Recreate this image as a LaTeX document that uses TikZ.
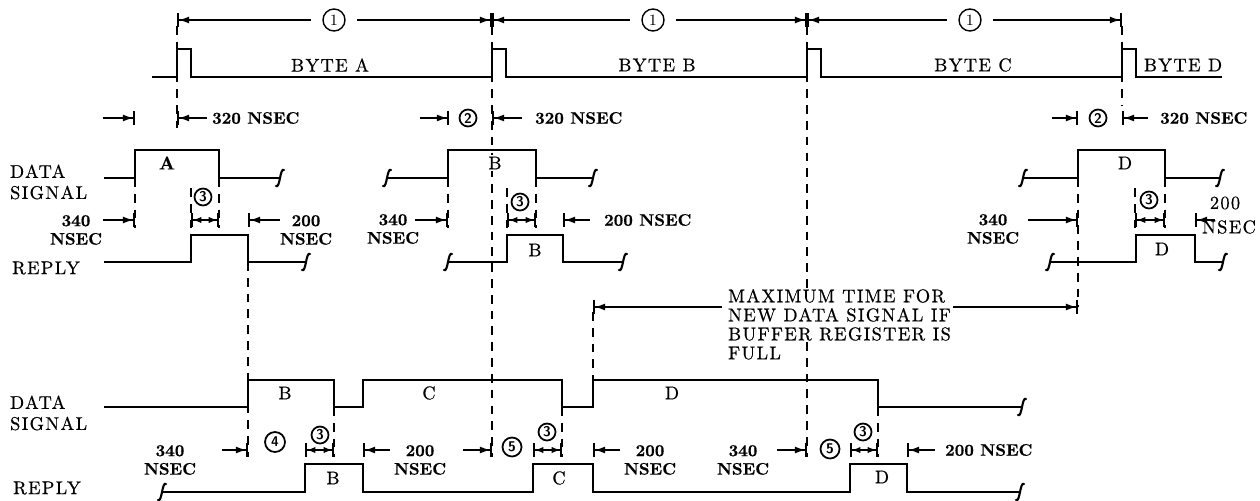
\documentclass[tikz,border=0pt]{standalone}
\usepackage{fontspec}
\newfontfamily\lblfont{Latin Modern Roman}[LetterSpace=7, FakeBold=0.5]
\newfontfamily\dimfont{lmroman10-bold.otf}[FakeBold=0.6]
\usetikzlibrary{arrows.meta}

\tikzset{
  sig/.style={line width=1.2pt, line join=miter},
  guide/.style={line width=1pt, dash pattern=on 5pt off 4pt},
  dim/.style={line width=0.9pt},
  tobar/.style={dim, -{Latex[length=6pt,width=4pt]Bar[width=8pt]}},
  frombar/.style={dim, {Bar[width=8pt]Latex[length=6pt,width=4pt]}-},
  bothbar/.style={dim, {Bar[width=8pt]Latex[length=5pt,width=3.6pt]}-{Latex[length=5pt,width=3.6pt]Bar[width=8pt]}},
  lbl/.style={font=\lblfont\fontsize{10.5}{12}\selectfont, inner sep=1pt},
  dimtxt/.style={font=\dimfont\fontsize{9.5}{10.5}\selectfont, inner sep=1pt},
  circ/.style={draw, circle, line width=1pt, inner sep=0pt, minimum size=0.34cm, font=\fontsize{8}{8}\selectfont\bfseries\sffamily},
  one/.style={draw, circle, line width=0.8pt, inner sep=0pt, minimum size=0.44cm, outer sep=7pt, font=\fontsize{9}{9}\selectfont},
  squig/.pic={\draw[sig, line cap=round] (-4,8) .. controls (0,11) and (0,-11) .. (4,-8);}
}

\begin{document}
\begin{tikzpicture}[x=0.02cm, y=-0.02cm]
\useasboundingbox (0,0) rectangle (1260,500);

% byte strobe line
\draw[sig] (152,77) foreach \x in {177,492,807,1122} { -- (\x,77) -- (\x,49) -- (\x+14,49) -- (\x+14,77) } -- (1222,77);
\foreach \x/\b in {330/A,657/B,973/C,1183/D}
  \node[lbl] (byte\b) at (\x,65) {BYTE \b};

% byte period
\foreach \a/\b/\m in {177/492/334, 492/807/653, 807/1122/970} {
  \node[one] (per\m) at (\m,20) {1};
  \draw[frombar] (\a,20) -- (per\m);
  \draw[tobar] (per\m) -- (\b,20);
}

% guide lines
\draw[guide] (177,26) -- (177,128);
\draw[guide] (492,26) -- (492,457);
\draw[guide] (807,26) -- (807,290) (807,342) -- (807,457);
\draw[guide] (1122,26) -- (1122,106);
\foreach \x in {135,448,219,536,1165} \draw[guide] (\x,178) -- (\x,228);
\foreach \x in {191,507,1135} \draw[guide] (\x,188) -- (\x,228);
\draw[guide] (1078,178) -- (1078,307);
\draw[guide] (248,262) -- (248,457);
\foreach \x in {334,562,878} \draw[guide] (\x,407) -- (\x,457);
\draw[guide] (593,312) -- (593,380);

% signal names
\node[lbl, align=left, anchor=west] (dsigup) at (8,182) {DATA\\[0pt]SIGNAL};
\node[lbl] (replyup) at (46,268) {REPLY};
\node[lbl, align=left, anchor=west] (dsiglow) at (8,413) {DATA\\[0pt]SIGNAL};
\node[lbl] (replylow) at (47,488) {REPLY};

% upper data signal
\draw[sig] (104,178) -- (135,178) -- (135,150) -- (219,150) -- (219,178) -- (280,178) pic {squig};
\draw[sig] (387,178) pic {squig} -- (448,178) -- (448,150) -- (536,150) -- (536,178) -- (593,178) pic {squig};
\draw[sig] (1023,178) pic {squig} -- (1078,178) -- (1078,150) -- (1165,150) -- (1165,178) -- (1220,178) pic {squig};
\node[dimtxt, font=\dimfont\fontsize{10.5}{12}\selectfont] (dA) at (167,163) {A};
\node[lbl, fill=white] (dB) at (495,163) {B};
\node[lbl] (dD) at (1125,163) {D};

% upper reply
\draw[sig] (104,262) -- (191,262) -- (191,235) -- (248,235) -- (248,262) -- (306,262) pic {squig};
\draw[sig] (448,262) pic {squig} -- (507,262) -- (507,235) -- (563,235) -- (563,262) -- (623,262) pic {squig};
\draw[sig] (1050,262) pic {squig} -- (1136,262) -- (1136,235) -- (1195,235) -- (1195,262) -- (1223,262) pic {squig};
\node[lbl] (rB) at (535,250) {B};
\node[lbl] (rD) at (1162,249) {D};

% 320 nsec
\draw[tobar] (103,118) -- (135,118);
\draw[frombar] (177,118) -- (207,118);
\node[dimtxt, anchor=west] (t320a) at (210,118) {320 NSEC};
\draw[tobar] (420,118) -- (449,118);
\node[circ] (twob) at (468,118) {2};
\draw[frombar] (492,118) -- (522,118);
\node[dimtxt, anchor=west] (t320b) at (533,118) {320 NSEC};
\draw[tobar] (1052,118) -- (1078,118);
\node[circ] (twod) at (1098,118) {2};
\draw[frombar] (1122,118) -- (1148,118);
\node[dimtxt, anchor=west] (t320d) at (1158,118) {320 NSEC};

% upper 340 / 200 nsec
\node[dimtxt, align=center] (t340a) at (76,230) {340\\NSEC};
\draw[tobar] (103,220) -- (135,220);
\node[circ] (threea) at (203,197) {3};
\draw[bothbar] (191,220) -- (219,220);
\draw[frombar] (248,220) -- (280,220);
\node[dimtxt, align=center] (t200a) at (306,230) {200\\NSEC};

\node[dimtxt, align=center] (t340b) at (393,229) {340\\NSEC};
\draw[tobar] (415,220) -- (448,220);
\node[circ] (threeb) at (520,202) {3};
\draw[bothbar] (507,220) -- (536,220);
\draw[frombar] (563,220) -- (590,220);
\node[dimtxt, anchor=west] (t200b) at (602,220) {200 NSEC};

\node[dimtxt, align=center] (t340d) at (993,229) {340\\NSEC};
\draw[tobar] (1028,220) -- (1078,220);
\node[circ] (threed) at (1149,200) {3};
\draw[bothbar] (1135,220) -- (1165,220);
\draw[frombar] (1195,220) -- (1215,220);
\node[lbl] (t200d) at (1225,203) {200};
\node[lbl] (n200d) at (1229,227) {NSEC};

% maximum time
\node[lbl, align=left, anchor=north west, font=\lblfont\fontsize{10.5}{10.8}\selectfont] (maxtime) at (726,287) {MAXIMUM TIME FOR\\NEW DATA SIGNAL IF\\BUFFER REGISTER IS\\FULL};
\draw[frombar] (593,307) -- (722,307);
\draw[tobar] (953,307) -- (1078,307);

% lower data signal
\draw[sig] (104,407) -- (248,407) -- (248,380) -- (334,380) -- (334,407) -- (363,407) -- (363,380) -- (562,380) -- (562,407) -- (593,407) -- (593,380) -- (878,380) -- (878,407) -- (1022,407) pic {squig};
\node[lbl] (lB) at (285,393) {B};
\node[lbl] (lC) at (429,393) {C};
\node[lbl] (lD) at (672,393) {D};

% lower reply
\draw[sig] (162,492) pic {squig} -- (305,492) -- (305,464) -- (363,464) -- (363,492) -- (533,492) -- (533,464) -- (593,464) -- (593,492) -- (850,492) -- (850,464) -- (907,464) -- (907,492) -- (1020,492) pic {squig};
\node[lbl] (lrB) at (333,478) {B};
\node[lbl] (lrC) at (559,478) {C};
\node[lbl] (lrD) at (882,477) {D};

% lower timing
\node[dimtxt, align=center] (b340a) at (170,460) {340\\NSEC};
\draw[tobar] (222,450) -- (248,450);
\node[circ, minimum size=0.4cm] (four) at (275,442) {4};
\node[circ] (b3a) at (320,435) {3};
\draw[bothbar] (305,450) -- (334,450);
\draw[frombar] (363,450) -- (390,450);
\node[dimtxt, align=center] (b200a) at (420,460) {200\\NSEC};

\draw[tobar] (463,450) -- (492,450);
\node[circ, minimum size=0.38cm] (fivea) at (512,447) {5};
\node[circ] (b3b) at (547,432) {3};
\draw[bothbar] (533,450) -- (562,450);
\draw[frombar] (593,450) -- (620,450);
\node[dimtxt, align=center] (b200b) at (650,460) {200\\NSEC};

\node[dimtxt, align=center] (b340b) at (743,460) {340\\NSEC};
\draw[tobar] (777,450) -- (807,450);
\node[circ, minimum size=0.38cm] (fiveb) at (830,449) {5};
\node[circ] (b3c) at (863,432) {3};
\draw[bothbar] (850,450) -- (878,450);
\draw[frombar] (907,450) -- (935,450);
\node[dimtxt, anchor=west] (b200c) at (943,450) {200 NSEC};
\end{tikzpicture}
\end{document}
